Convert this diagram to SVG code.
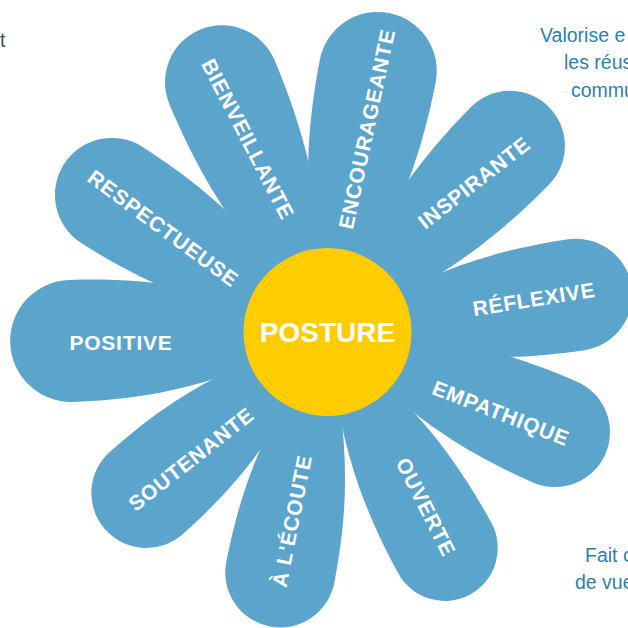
<svg xmlns="http://www.w3.org/2000/svg" width="628" height="628" viewBox="0 0 628 628">
<style>
.petal{fill:#5ba5cc}
.pt{font-family:"Liberation Sans",Arial,sans-serif;font-weight:bold;font-size:21px;letter-spacing:0.8px;fill:#ffffff;text-anchor:middle}
.side{font-family:"Liberation Sans",Arial,sans-serif;font-size:19.5px;fill:#2f7fab}
</style>
<rect width="628" height="628" fill="#ffffff"/>
<text class="side" x="0" y="47" style="fill:#2c4f69">t</text>
<text class="side" x="540" y="42">Valorise e</text>
<text class="side" x="564" y="69">les réus</text>
<text class="side" x="571" y="97">commu</text>
<text class="side" x="585" y="562">Fait c</text>
<text class="side" x="575" y="589">de vue</text>
<g id="connectors"/>
<g id="petal-positive">
<path class="petal" transform="translate(327,332) rotate(178)" d="M0 0 C84 -37 149 -61 256 -61 A61 61 0 0 1 256 61 C149 61 84 37 0 0Z"/>
<text class="pt" transform="translate(121,342.5)" y="7.5">POSITIVE</text>
</g>
<g id="petal-respectueuse">
<path class="petal" transform="translate(327,332) rotate(212.5)" d="M0 0 C84 -34 148 -57 255 -57 A57 57 0 0 1 255 57 C148 57 84 34 0 0Z"/>
<text class="pt" transform="translate(163.3,228.3) rotate(36.4)" y="7.5">RESPECTUEUSE</text>
</g>
<g id="petal-bienveillante">
<path class="petal" transform="translate(327,332) rotate(-112.8)" d="M0 0 C89 -34 157 -57 271 -57 A57 57 0 0 1 271 57 C157 57 89 34 0 0Z"/>
<text class="pt" transform="translate(248,139) rotate(62.7)" y="7.5">BIENVEILLANTE</text>
</g>
<g id="petal-encourageante">
<path class="petal" transform="translate(327,332) rotate(-79)" d="M0 0 C88 -35 154 -59 266 -59 A59 59 0 0 1 266 59 C154 59 88 35 0 0Z"/>
<text class="pt" transform="translate(366.7,129) rotate(-78)" y="7.5">ENCOURAGEANTE</text>
</g>
<g id="petal-inspirante">
<path class="petal" transform="translate(327,332) rotate(-45.5)" d="M0 0 C86 -33 151 -55 261 -55 A55 55 0 0 1 261 55 C151 55 86 33 0 0Z"/>
<text class="pt" transform="translate(474,182.5) rotate(-38)" y="7.5">INSPIRANTE</text>
</g>
<g id="petal-reflexive">
<path class="petal" transform="translate(327,332) rotate(-8.5)" d="M0 0 C83 -34 146 -56 252 -56 A56 56 0 0 1 252 56 C146 56 83 34 0 0Z"/>
<text class="pt" transform="translate(534,299) rotate(-9.1)" y="7.5">RÉFLEXIVE</text>
</g>
<g id="petal-empathique">
<path class="petal" transform="translate(327,332) rotate(23.7)" d="M0 0 C82 -33 144 -55 249 -55 A55 55 0 0 1 249 55 C144 55 82 33 0 0Z"/>
<text class="pt" transform="translate(501,413) rotate(21.3)" y="7.5">EMPATHIQUE</text>
</g>
<g id="petal-ouverte">
<path class="petal" transform="translate(327,332) rotate(61.4)" d="M0 0 C81 -32 143 -53 246 -53 A53 53 0 0 1 246 53 C143 53 81 32 0 0Z"/>
<text class="pt" transform="translate(426,507) rotate(63.4)" y="7.5">OUVERTE</text>
</g>
<g id="petal-ecoute">
<path class="petal" transform="translate(327,332) rotate(101)" d="M0 0 C81 -33 142 -55 245 -55 A55 55 0 0 1 245 55 C142 55 81 33 0 0Z"/>
<text class="pt" transform="translate(291.7,521) rotate(-78.9)" y="7.5">À L'ÉCOUTE</text>
</g>
<g id="petal-soutenante">
<path class="petal" transform="translate(327,332) rotate(138.3)" d="M0 0 C80 -33 140 -55 242 -55 A55 55 0 0 1 242 55 C140 55 80 33 0 0Z"/>
<text class="pt" transform="translate(191,459) rotate(-38.3)" y="7.5">SOUTENANTE</text>
</g>
<g id="center-posture">
<circle cx="327.5" cy="332" r="84" fill="#ffcc00"/>
<text x="327.5" y="342" style="font-family:'Liberation Sans',Arial,sans-serif;font-weight:bold;font-size:28px;fill:#ffffff;text-anchor:middle">POSTURE</text>
</g>
</svg>
